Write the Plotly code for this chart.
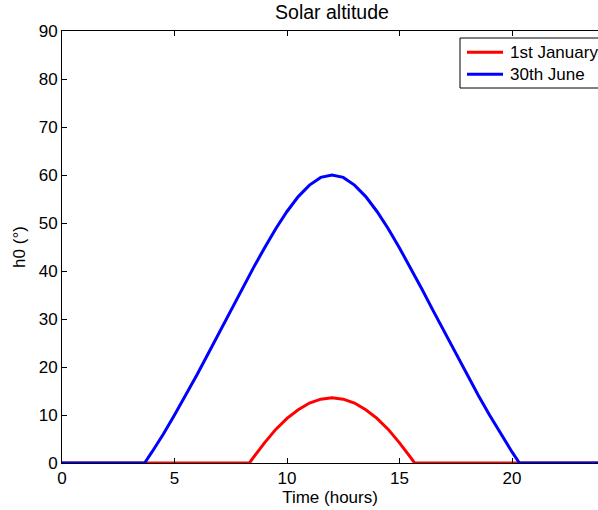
import plotly.graph_objects as go

# Time of day (hours)
hours = [0, 1, 2, 3, 3.67, 4, 4.5, 5, 5.5, 6, 6.5, 7, 7.5, 8, 8.33, 8.5, 9, 9.5,
         10, 10.5, 11, 11.5, 12, 12.5, 13, 13.5, 14, 14.5, 15, 15.5, 15.67, 16,
         16.5, 17, 17.5, 18, 18.5, 19, 19.5, 20, 20.33, 21, 22, 23, 24]

# Solar altitude (degrees), 1st January
jan = [0, 0, 0, 0, 0, 0, 0, 0, 0, 0, 0, 0, 0, 0, 0, 1.1, 4.2, 7.0,
       9.3, 11.1, 12.5, 13.3, 13.6, 13.3, 12.5, 11.1, 9.3, 7.0, 4.2, 1.1, 0, 0,
       0, 0, 0, 0, 0, 0, 0, 0, 0, 0, 0, 0, 0]

# Solar altitude (degrees), 30th June
jun = [0, 0, 0, 0, 0, 2.3, 6.0, 10.0, 14.1, 18.4, 22.8, 27.3, 31.7, 36.2, 39.0, 40.6, 44.8, 48.8,
       52.4, 55.5, 57.9, 59.5, 60.0, 59.5, 57.9, 55.5, 52.4, 48.8, 44.8, 40.6, 39.0, 36.2,
       31.7, 27.3, 22.8, 18.4, 14.1, 10.0, 6.0, 2.3, 0, 0, 0, 0, 0]

series_names = ["1st January", "30th June"]
series_colors = ["#ff0000", "#0000ff"]

x_ticks = [0, 5, 10, 15, 20]
y_ticks = [0, 10, 20, 30, 40, 50, 60, 70, 80, 90]

FONT = "Liberation Sans, Arial, sans-serif"

# plot area geometry (pixels) used to place the clipped MATLAB-style legend
L, T, B, W = 62, 31, 47, 598
H = 510
PW, PH = W - L, H - T - B


def px(x):
    return (x - L) / PW


def py(y):
    return (H - B - y) / PH


fig = go.Figure()
for name, vals, col in zip(series_names, [jan, jun], series_colors):
    fig.add_trace(go.Scatter(x=hours, y=vals, mode="lines", name=name,
                             line=dict(color=col, width=3)))

# legend (MATLAB legend box, clipped at right edge of the figure)
shapes = [dict(type="rect", xref="paper", yref="paper",
               x0=px(460), x1=px(640), y0=py(88), y1=py(38),
               line=dict(color="black", width=1), fillcolor="white", layer="above")]
annotations = []
for i, (name, col) in enumerate(zip(series_names, series_colors)):
    yy = 52.3 + 22 * i
    shapes.append(dict(type="line", xref="paper", yref="paper",
                       x0=px(467), x1=px(503), y0=py(yy), y1=py(yy),
                       line=dict(color=col, width=3), layer="above"))
    annotations.append(dict(text=name, xref="paper", yref="paper",
                            x=px(508), y=py(yy), xanchor="left", yanchor="middle",
                            showarrow=False, font=dict(size=17, color="black")))

fig.update_layout(
    width=W, height=H,
    margin=dict(l=L, r=0, t=T, b=B),
    paper_bgcolor="white", plot_bgcolor="white",
    font=dict(family=FONT, size=17, color="black"),
    title=dict(text="Solar altitude", x=0.5037, xref="paper", xanchor="center",
               y=1 - 12 / 510, yanchor="middle", font=dict(size=19.5, color="black")),
    showlegend=False,
    shapes=shapes,
    annotations=annotations,
)
fig.update_xaxes(range=[0, PW / 22.5], tickvals=x_ticks, ticks="inside", ticklen=5,
                 tickcolor="black", showline=True, linecolor="black", linewidth=1,
                 mirror="ticks", showgrid=False, zeroline=False,
                 title=dict(text="Time (hours)", standoff=1, font=dict(size=17)))
fig.update_yaxes(range=[0, 90], tickvals=y_ticks, ticks="inside", ticklen=5,
                 tickcolor="black", showline=True, linecolor="black", linewidth=1,
                 mirror=False, showgrid=False, zeroline=False,
                 title=dict(text="h0 (°)", standoff=8, font=dict(size=17)))

fig.write_html("out.html")
